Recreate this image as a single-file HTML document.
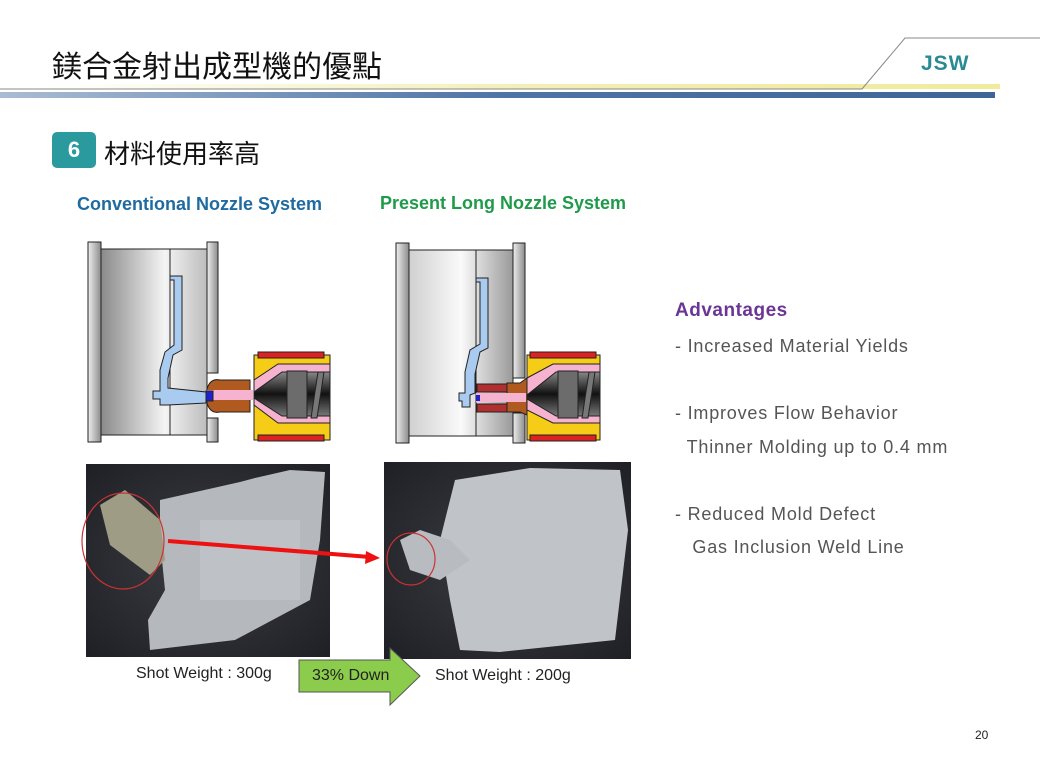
<!DOCTYPE html>
<html><head><meta charset="utf-8"><style>
body{margin:0;width:1040px;height:775px;background:#fff;position:relative;overflow:hidden;font-family:"Liberation Sans","Noto Sans CJK TC",sans-serif}
.a{position:absolute;white-space:nowrap}
</style></head><body>
<svg class="a" style="left:0;top:0" width="1040" height="775">
<defs>
<linearGradient id="bar" x1="0" x2="1"><stop offset="0" stop-color="#a9bcd3"/><stop offset=".5" stop-color="#4f74a6"/><stop offset="1" stop-color="#3f6597"/></linearGradient>
<linearGradient id="yl" x1="0" x2="1"><stop offset="0" stop-color="#fff"/><stop offset=".5" stop-color="#f3efb8"/><stop offset="1" stop-color="#f0ea9a"/></linearGradient>
<linearGradient id="mold" x1="0" x2="1"><stop offset="0" stop-color="#8a8a8a"/><stop offset=".6" stop-color="#f4f4f4"/><stop offset="1" stop-color="#bdbdbd"/></linearGradient>
<linearGradient id="mold2" x1="0" x2="1"><stop offset="0" stop-color="#d0d0d0"/><stop offset=".5" stop-color="#fafafa"/><stop offset="1" stop-color="#9a9a9a"/></linearGradient>
<linearGradient id="plate" x1="0" x2="1"><stop offset="0" stop-color="#eee"/><stop offset="1" stop-color="#8c8c8c"/></linearGradient>
<linearGradient id="scr" x1="0" y1="0" x2="0" y2="1"><stop offset="0" stop-color="#888"/><stop offset=".5" stop-color="#111"/><stop offset="1" stop-color="#777"/></linearGradient>
<radialGradient id="ph" cx=".5" cy=".5" r=".7"><stop offset="0" stop-color="#3c3d44"/><stop offset="1" stop-color="#1f2025"/></radialGradient>
</defs>
<rect x="40" y="84" width="960" height="5" fill="url(#yl)"/>
<polyline points="0,89 862,89 905,38 1040,38" fill="none" stroke="#888" stroke-width="1"/>
<rect x="0" y="92" width="995" height="6" fill="url(#bar)"/>
<g stroke="#222" stroke-width="1">
<rect x="88" y="242" width="13" height="200" fill="url(#plate)"/>
<rect x="101" y="249" width="106" height="186" fill="url(#mold)"/>
<line x1="170" y1="249" x2="170" y2="435"/>
<rect x="207" y="242" width="11" height="131" fill="url(#plate)"/>
<rect x="207" y="418" width="11" height="24" fill="url(#plate)"/>
<path d="M170,276 L182,276 L182,350 L173,355 L168,378 L168,388 L206,392 L206,403 L168,405 L160,405 L160,399 L153,399 L153,391 L160,391 L160,370 L165,352 L174,345 L174,280 L170,280Z" fill="#a9cbef"/>
<rect x="254" y="355" width="76" height="85" fill="#f5cc16"/>
<rect x="258" y="352" width="66" height="6" fill="#d22"/>
<rect x="258" y="435" width="66" height="6" fill="#d22"/>
<path d="M207,389 Q210,378 220,380 L250,380 L250,412 L220,412 Q210,414 207,403Z" fill="#b05a20"/>
<path d="M254,380 L278,364 L330,364 L330,423 L278,423 L254,405Z" fill="#f6b3cf"/>
<path d="M254,392 L282,372 L330,372 L330,416 L282,416 L254,398Z" fill="url(#scr)"/>
<rect x="287" y="371" width="20" height="47" fill="#6c6c6c"/>
<polygon points="318,372 324,372 317,418 311,418" fill="#777"/>
<rect x="207" y="390" width="46" height="10" fill="#f6b3cf" stroke="none"/>
<rect x="206" y="391" width="7" height="10" fill="#22c"/>
</g>
<g stroke="#222" stroke-width="1">
<rect x="396" y="243" width="13" height="200" fill="url(#plate)"/>
<rect x="409" y="250" width="104" height="186" fill="url(#mold2)"/>
<line x1="476" y1="250" x2="476" y2="436"/>
<rect x="513" y="243" width="12" height="135" fill="url(#plate)"/>
<rect x="513" y="413" width="12" height="30" fill="url(#plate)"/>
<path d="M476,278 L488,278 L488,348 L480,352 L475,374 L475,393 L470,395 L470,407 L462,407 L462,401 L459,401 L459,393 L465,393 L465,372 L470,350 L480,344 L480,282 L476,282Z" fill="#a9cbef"/>
<rect x="527" y="355" width="73" height="85" fill="#f5cc16"/>
<rect x="530" y="352" width="66" height="6" fill="#d22"/>
<rect x="530" y="435" width="66" height="6" fill="#d22"/>
<rect x="477" y="384" width="30" height="8" fill="#b03030"/>
<rect x="477" y="404" width="30" height="8" fill="#b03030"/>
<path d="M507,383 L520,383 L527,378 L527,415 L520,412 L507,412Z" fill="#b05a20"/>
<path d="M527,378 L553,364 L600,364 L600,423 L553,423 L527,410Z" fill="#f6b3cf"/>
<path d="M527,395 L556,372 L600,372 L600,416 L556,416 L527,399Z" fill="url(#scr)"/>
<rect x="558" y="371" width="20" height="47" fill="#6c6c6c"/>
<polygon points="589,372 595,372 588,418 582,418" fill="#777"/>
<rect x="476" y="393" width="50" height="9" fill="#f6b3cf" stroke="none"/>
<rect x="476" y="395" width="4" height="6" fill="#22c" stroke="none"/>
</g>
<rect x="86" y="464" width="244" height="193" fill="url(#ph)"/>
<polygon points="160,500 240,482 255,478 290,470 325,472 320,540 310,600 235,640 150,650 148,620 165,590 160,540" fill="#b5b8bc"/>
<polygon points="100,505 125,490 160,520 165,560 150,575 110,545" fill="#9e9c85"/>
<rect x="200" y="520" width="100" height="80" fill="#c4c7cb" opacity=".6"/>
<ellipse cx="123" cy="541" rx="41" ry="48" fill="none" stroke="#c33" stroke-width="1.2"/>
<rect x="384" y="462" width="247" height="197" fill="url(#ph)"/>
<polygon points="455,480 530,468 620,470 628,530 615,640 500,652 460,650 450,600 440,540" fill="#c0c3c7"/>
<polygon points="400,540 420,530 450,540 470,560 440,580 410,570" fill="#b8bbbf"/>
<ellipse cx="411" cy="559" rx="24" ry="26" fill="none" stroke="#c33" stroke-width="1.2"/>
<line x1="168" y1="541" x2="370" y2="557" stroke="#e11" stroke-width="4"/>
<polygon points="380,558 366,551 365,564" fill="#e11"/>
<polygon points="299,660 390,660 390,648 420,676 390,705 390,692 299,692" fill="#8ccc4c" stroke="#555" stroke-width="1"/>
</svg>
<div class="a" style="left:52px;top:42px;font-size:30px;color:#111">鎂合金射出成型機的優點</div>
<div class="a" style="left:921px;top:52px;font-size:21px;font-weight:bold;color:#2a8a93;letter-spacing:1px">JSW</div>
<div class="a" style="left:52px;top:132px;width:44px;height:36px;background:#2a9a9e;border-radius:5px;color:#fff;font-weight:bold;font-size:22px;text-align:center;line-height:36px">6</div>
<div class="a" style="left:104px;top:134px;font-size:26px;color:#111">材料使用率高</div>
<div class="a" style="left:77px;top:194px;font-size:18px;font-weight:bold;color:#1f6aa0">Conventional Nozzle System</div>
<div class="a" style="left:380px;top:193px;font-size:18px;font-weight:bold;color:#1f9a4a">Present Long Nozzle System</div>
<div class="a" style="left:675px;top:300px;font-size:19px;font-weight:bold;color:#6b3596;letter-spacing:.5px">Advantages</div>
<div class="a" style="left:675px;top:330px;font-size:18px;color:#555;line-height:33.5px;letter-spacing:.8px">- Increased Material Yields<br><br>- Improves Flow Behavior<br>&nbsp;&nbsp;Thinner Molding up to 0.4 mm<br><br>- Reduced Mold Defect<br>&nbsp;&nbsp;&nbsp;Gas Inclusion Weld Line</div>
<div class="a" style="left:136px;top:665px;font-size:16px;color:#222">Shot Weight : 300g</div>
<div class="a" style="left:312px;top:667px;font-size:16px;color:#222">33% Down</div>
<div class="a" style="left:435px;top:667px;font-size:16px;color:#222">Shot Weight : 200g</div>
<div class="a" style="left:975px;top:728px;font-size:12px;color:#222">20</div>
</body></html>
